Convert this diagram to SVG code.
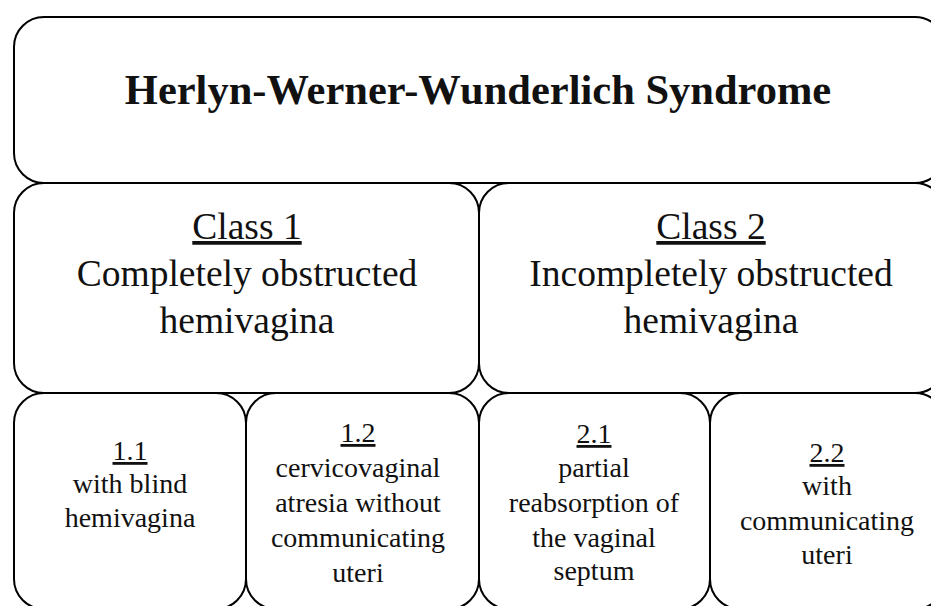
<svg xmlns="http://www.w3.org/2000/svg" width="931" height="606" viewBox="0 0 931 606">
<style>
.box{fill:none;stroke:#000;stroke-width:2}
.t{font-family:"Liberation Serif","Times New Roman",serif;fill:#111;text-anchor:middle}
.title{font-size:42.5px;font-weight:bold}
.cls{font-size:37.5px}
.sub{font-size:28px}
.u{text-decoration:underline}
</style>
<rect width="931" height="606" fill="#fff"/>
<g id="title-node">
<rect class="box" x="14" y="17" width="931" height="166" rx="30"/>
<text class="t title" x="478" y="104">Herlyn-Werner-Wunderlich Syndrome</text>
</g>
<g id="class1">
<rect class="box" x="14" y="183" width="465" height="210" rx="30"/>
<text class="t cls" x="247" y="239"><tspan class="u">Class 1</tspan></text>
<text class="t cls" x="247" y="286">Completely obstructed</text>
<text class="t cls" x="247" y="333">hemivagina</text>
</g>
<g id="class2">
<rect class="box" x="479" y="183" width="466" height="210" rx="30"/>
<text class="t cls" x="711" y="239"><tspan class="u">Class 2</tspan></text>
<text class="t cls" x="711" y="286">Incompletely obstructed</text>
<text class="t cls" x="711" y="333">hemivagina</text>
</g>
<g id="sub11">
<rect class="box" x="14" y="393" width="232" height="216" rx="30"/>
<text class="t sub" x="130" y="460"><tspan class="u">1.1</tspan></text>
<text class="t sub" x="130" y="493">with blind</text>
<text class="t sub" x="130" y="527">hemivagina</text>
</g>
<g id="sub12">
<rect class="box" x="246" y="393" width="233" height="216" rx="30"/>
<text class="t sub" x="358" y="442"><tspan class="u">1.2</tspan></text>
<text class="t sub" x="358" y="477">cervicovaginal</text>
<text class="t sub" x="358" y="512">atresia without</text>
<text class="t sub" x="358" y="547">communicating</text>
<text class="t sub" x="358" y="582">uteri</text>
</g>
<g id="sub21">
<rect class="box" x="479" y="393" width="231" height="216" rx="30"/>
<text class="t sub" x="594" y="443"><tspan class="u">2.1</tspan></text>
<text class="t sub" x="594" y="477">partial</text>
<text class="t sub" x="594" y="512">reabsorption of</text>
<text class="t sub" x="594" y="547">the vaginal</text>
<text class="t sub" x="594" y="580">septum</text>
</g>
<g id="sub22">
<rect class="box" x="710" y="393" width="235" height="216" rx="30"/>
<text class="t sub" x="827" y="462"><tspan class="u">2.2</tspan></text>
<text class="t sub" x="827" y="495">with</text>
<text class="t sub" x="827" y="530">communicating</text>
<text class="t sub" x="827" y="564">uteri</text>
</g>
<g id="connectors"></g>
</svg>
